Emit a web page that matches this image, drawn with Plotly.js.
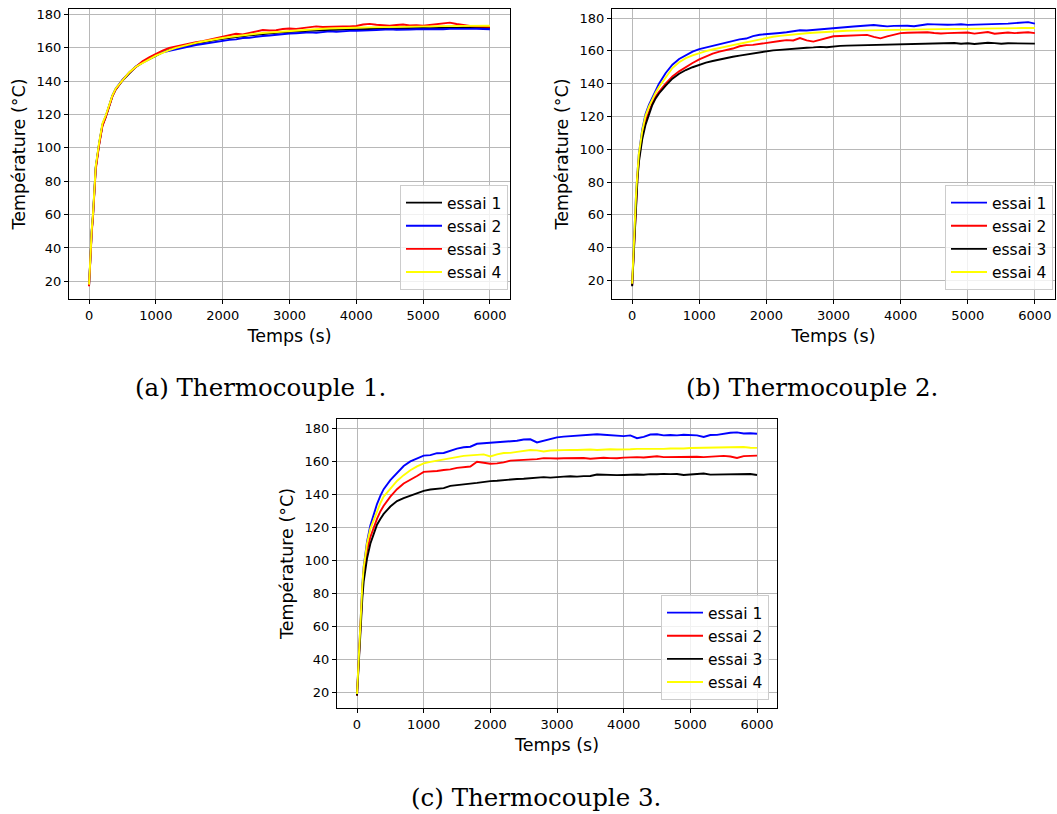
<!DOCTYPE html>
<html>
<head>
<meta charset="utf-8">
<script src="https://cdn.plot.ly/plotly-3.0.1.min.js"></script>
<style>html,body{margin:0;padding:0;background:#fff;}#chart{width:1057px;height:814px;}</style>
</head>
<body>
<div id="chart"></div>
<script>
// Time samples (s)
const temps = [0,20,40,60,80,100,150,200,250,300,350,400,500,600,700,800,900,1000,
1100,1200,1300,1400,1500,1600,1700,1800,1900,2000,
2100,2200,2300,2400,2500,2600,2700,2800,2900,3000,
3100,3200,3300,3400,3500,3600,3700,3800,3900,4000,
4100,4200,4300,4400,4500,4600,4700,4800,4900,5000,
5100,5200,5300,5400,5500,5600,5700,5800,5900,6000];

const seriesNames = ["essai 1", "essai 2", "essai 3", "essai 4"];

// Thermocouple 1 (a)
const tc1_essai1 = [17.5,36,50,60,75,88,102,113.5,118.5,125,131,135,140.3,144.5,148.5,151,153,155.5,
157.2,158.8,159.8,160.9,161.8,162.6,163.3,164.2,164.7,165.4,
166.0,166.5,166.9,167.4,167.8,168.3,168.5,168.9,169.3,169.6,
169.8,170.1,170.2,170.3,170.6,170.7,170.8,170.9,171.0,171.0,
171.2,171.0,171.3,171.4,171.3,171.6,171.4,171.7,171.6,171.8,
171.7,171.9,171.8,172.0,171.9,172.1,171.8,172.0,171.9,172.0];
const tc1_essai2 = [17.5,36.5,50.5,60.5,75.5,88.5,102.5,114,119,125.5,131.5,135.5,140.8,145,148.8,151.4,153.6,156.0,
157.3,158.2,159.0,160.0,160.8,161.6,162.2,162.9,163.5,164.0,
164.7,165.0,165.8,166.0,166.6,167.0,167.3,167.8,168.2,168.5,
168.7,169.1,169.2,169.0,169.5,169.8,169.6,170.0,170.1,170.2,
170.1,170.4,170.6,170.9,171.0,170.8,170.7,170.9,171.1,171.0,
171.2,170.9,171.1,171.3,171.2,171.5,171.3,171.4,171.2,171.1];
const tc1_essai3 = [17,35,49,59,74,87,101.5,113,118.5,125,131,135,140.5,145,148.6,151.8,154.2,156.5,
158.3,159.9,160.8,161.7,162.6,163.3,163.9,164.8,165.6,166.4,
167.1,168.4,168.0,168.8,169.5,170.6,170.3,170.5,171.2,171.5,
171.3,171.8,172.1,172.8,172.4,172.6,172.9,172.7,172.8,173.0,
173.9,174.3,173.8,173.5,173.2,173.6,173.9,173.3,173.5,173.2,
173.6,173.9,174.4,175.0,174.2,173.5,173.0,172.8,172.9,172.6];
const tc1_essai4 = [18,37,51,61,76,89,103,114.5,119.5,125.8,131.5,135.6,140.6,145.2,148.6,151,153,155.2,
157.0,158.5,159.9,161.0,162.0,162.9,163.7,164.5,165.1,165.8,
166.4,167.0,167.5,167.9,168.4,168.8,169.1,169.6,169.9,170.3,
170.5,170.8,171.0,171.2,171.4,171.5,171.7,171.8,171.9,172.0,
172.1,172.2,172.3,172.4,172.4,172.5,172.6,172.6,172.7,172.8,
172.8,172.9,172.9,173.0,173.1,173.1,173.2,173.2,173.3,173.2];

// Thermocouple 2 (b)
const tc2_essai1 = [17,38,58,74,86,97,112,121.5,127,131.5,135.5,140,146.5,151.5,155,157.5,159.5,161,
162.0,163.0,163.8,165.0,166.0,167.0,167.5,169.0,169.8,170.3,
170.6,170.9,171.3,171.8,172.5,172.4,172.8,173.0,173.6,174.0,
174.3,174.6,174.8,175.1,175.3,175.7,175.3,174.9,175.2,175.4,
175.3,175.0,175.7,176.2,176.1,175.8,175.9,176.0,176.2,175.8,
175.9,176.3,176.0,176.4,176.5,176.6,176.9,177.1,177.5,176.6];
const tc2_essai2 = [17,36,56,72,84,94,108,117,123,128,132,135,140,144.3,147.5,150.2,152.6,154.8,
156.6,158.3,159.5,160.4,161.4,162.8,163.5,163.6,164.3,165.0,
165.4,166.0,166.5,166.3,167.8,166.4,165.6,166.8,168.0,168.9,
169.0,169.2,169.6,169.8,169.7,168.5,167.6,168.8,170.0,170.8,
171.0,171.2,171.5,171.3,170.9,170.6,170.8,171.0,170.9,171.2,
170.5,171.0,171.5,170.4,170.9,171.2,170.8,171.0,171.3,170.8];
const tc2_essai3 = [16.5,35,55,70,82,92,106,115,121.5,127,131,134,138.8,143.0,146.0,148.3,150.0,151.5,
152.8,153.8,154.8,155.6,156.4,157.1,157.8,158.5,159.2,159.8,
160.3,160.6,161.0,161.3,161.6,161.9,162.1,162.4,162.2,162.8,
163.0,163.2,163.3,163.5,163.6,163.5,163.9,164.0,163.8,164.1,
164.2,164.3,164.5,164.4,164.6,164.5,164.7,164.8,164.3,164.6,
164.2,164.5,164.9,164.7,164.3,164.6,164.5,164.6,164.4,164.4];
const tc2_essai4 = [18,38,58,74,86,97,111,120.5,126,130.5,134.5,138,144,149.5,153,155.5,157.2,158.6,
159.8,160.8,161.8,162.7,163.5,164.3,165.2,166.2,167.2,168.0,
168.6,169.1,169.6,170.0,170.4,170.7,171.0,171.3,171.6,171.9,
172.0,172.2,172.3,172.4,172.5,172.6,172.7,172.8,172.8,172.9,
173.0,173.0,173.1,173.2,173.2,173.3,173.3,173.4,173.4,173.5,
173.5,173.6,173.6,173.7,173.7,173.8,173.8,173.9,173.9,173.9];

// Thermocouple 3 (c)
const tc3_essai1 = [19,38,56,72,85,96,111,121,128,134,139,143,148.5,153,157,159.8,161.5,163.3,
163.6,164.8,164.9,166.2,167.6,168.4,168.7,170.5,170.8,171.2,
171.6,171.9,172.0,172.3,173.1,173.2,171.3,172.3,173.6,174.4,
174.8,175.1,175.5,175.6,176.1,176.3,176.0,175.8,175.3,175.1,
175.6,173.9,174.7,176.1,176.3,175.6,175.8,175.6,176.0,175.9,
175.6,174.6,175.8,175.9,176.7,177.2,177.4,176.7,176.9,176.6];
const tc3_essai2 = [18,36,54,69,82,93,106,114,120,125,129.5,133,138.5,143,146.5,148.5,151,153.5,
153.7,154.0,154.6,155.0,155.9,156.4,156.7,159.6,159.0,158.4,
158.6,159.2,160.3,160.5,160.7,160.9,161.2,161.8,161.5,161.6,
161.7,161.8,161.6,161.9,161.4,161.9,162.0,161.8,161.7,162.1,
162.3,162.4,162.2,162.6,162.9,162.4,162.5,162.3,162.6,162.5,
162.6,162.4,162.8,163.0,163.2,162.8,161.9,163.0,163.1,163.3];
const tc3_essai3 = [18,34,50,64,77,87,101,110,116,121.5,125,128,132.5,135.8,137.6,139.0,140.8,142.0,
142.8,143.4,143.6,145.0,145.6,146.0,146.4,146.8,147.5,147.9,
148.1,148.6,148.9,149.2,149.3,149.6,150.1,150.3,150.0,150.1,
150.6,150.8,150.6,150.9,151.0,151.9,151.7,151.4,151.5,151.6,
151.8,151.9,151.7,152.1,152.0,152.3,152.1,152.2,151.6,151.8,
151.9,152.5,151.8,151.9,152.0,152.1,152.3,152.4,152.2,151.6];
const tc3_essai4 = [19,38,56,72,85,95.5,110,119,124.5,130,134.5,138.5,143.5,148,151.5,154.5,156.8,158.6,
159.5,160.3,161.2,161.8,162.6,163.2,163.5,163.6,164.1,162.8,
164.1,164.9,165.0,165.6,166.1,166.7,166.5,165.8,166.4,166.6,
166.5,166.8,166.7,166.9,167.0,166.7,167.1,167.2,167.0,167.3,
167.2,167.4,167.3,167.5,167.1,167.4,167.6,167.5,167.6,167.9,
168.0,167.7,168.0,168.2,168.1,168.3,168.4,168.5,168.1,168.0];

const xTicks = [0,1000,2000,3000,4000,5000,6000];
const yTicks = [20,40,60,80,100,120,140,160,180];
const captions = ["(a) Thermocouple 1.", "(b) Thermocouple 2.", "(c) Thermocouple 3."];
const xLabel = "Temps (s)";
const yLabel = "Température (°C)";

const BLACK = "#000000", BLUE = "#0000ff", RED = "#ff0000", YELLOW = "#ffff00";

const panels = [
  {ax: "", leg: "legend", ys: [tc1_essai1, tc1_essai2, tc1_essai3, tc1_essai4], colors: [BLACK, BLUE, RED, YELLOW]},
  {ax: "2", leg: "legend2", ys: [tc2_essai1, tc2_essai2, tc2_essai3, tc2_essai4], colors: [BLUE, RED, BLACK, YELLOW]},
  {ax: "3", leg: "legend3", ys: [tc3_essai1, tc3_essai2, tc3_essai3, tc3_essai4], colors: [BLUE, RED, BLACK, YELLOW]}
];

const traces = [];
panels.forEach(p => {
  p.ys.forEach((y, i) => {
    traces.push({
      x: temps, y: y, type: "scatter", mode: "lines",
      name: seriesNames[i],
      line: {color: p.colors[i], width: 1.9},
      xaxis: "x" + p.ax, yaxis: "y" + p.ax,
      legend: p.leg, showlegend: true
    });
  });
});

const W = 1057, H = 814;
const font = "DejaVu Sans, Liberation Sans, sans-serif";

function xaxis(x0, x1, anchor) {
  return {
    domain: [x0 / W, x1 / W], anchor: anchor, range: [-300, 6300],
    tickvals: xTicks, ticks: "outside", ticklen: 4, tickwidth: 1, tickcolor: "#000",
    showline: true, mirror: true, linecolor: "#000", linewidth: 1,
    showgrid: true, gridcolor: "#b8b8b8", gridwidth: 1, zeroline: false,
    tickfont: {family: font, size: 13, color: "#000"},
    title: {text: xLabel, font: {family: font, size: 17.5, color: "#000"}, standoff: 8},
    automargin: false, fixedrange: true
  };
}
function yaxis(y0, y1, range, anchor) {
  return {
    domain: [1 - y1 / H, 1 - y0 / H], anchor: anchor, range: range,
    tickvals: yTicks, ticks: "outside", ticklen: 4, tickwidth: 1, tickcolor: "#000",
    showline: true, mirror: true, linecolor: "#000", linewidth: 1,
    showgrid: true, gridcolor: "#b8b8b8", gridwidth: 1, zeroline: false,
    tickfont: {family: font, size: 13, color: "#000"},
    title: {text: yLabel, font: {family: font, size: 17.5, color: "#000"}, standoff: 6},
    automargin: false, fixedrange: true
  };
}
function legend(xRight, yBottom) {
  return {
    x: xRight / W, y: 1 - yBottom / H, xanchor: "right", yanchor: "bottom",
    bgcolor: "rgba(255,255,255,0.8)", bordercolor: "#cccccc", borderwidth: 1,
    font: {family: font, size: 15.5, color: "#000"}, tracegroupgap: 0, itemwidth: 36
  };
}

const capFont = {family: "DejaVu Serif, Liberation Serif, serif", size: 24.5, color: "#000"};

const layout = {
  width: W, height: H,
  margin: {l: 0, r: 0, t: 0, b: 0},
  paper_bgcolor: "#fff", plot_bgcolor: "#fff",
  showlegend: true,
  xaxis: xaxis(69, 510, "y"),
  yaxis: yaxis(9, 299, [9.4, 183.2], "x"),
  xaxis2: xaxis(612, 1055, "y2"),
  yaxis2: yaxis(9, 299, [8.7, 185.5], "x2"),
  xaxis3: xaxis(337, 777, "y3"),
  yaxis3: yaxis(419, 708, [10.5, 185.5], "x3"),
  legend: legend(508, 290),
  legend2: legend(1053, 290),
  legend3: legend(769, 700),
  annotations: [
    {text: captions[0], x: 260.5 / W, y: 1 - 387 / H, xref: "paper", yref: "paper", xanchor: "center", yanchor: "middle", showarrow: false, font: capFont},
    {text: captions[1], x: 812 / W, y: 1 - 387 / H, xref: "paper", yref: "paper", xanchor: "center", yanchor: "middle", showarrow: false, font: capFont},
    {text: captions[2], x: 535.5 / W, y: 1 - 797 / H, xref: "paper", yref: "paper", xanchor: "center", yanchor: "middle", showarrow: false, font: capFont}
  ]
};

Plotly.newPlot("chart", traces, layout, {staticPlot: true, displayModeBar: false});
</script>
</body>
</html>
